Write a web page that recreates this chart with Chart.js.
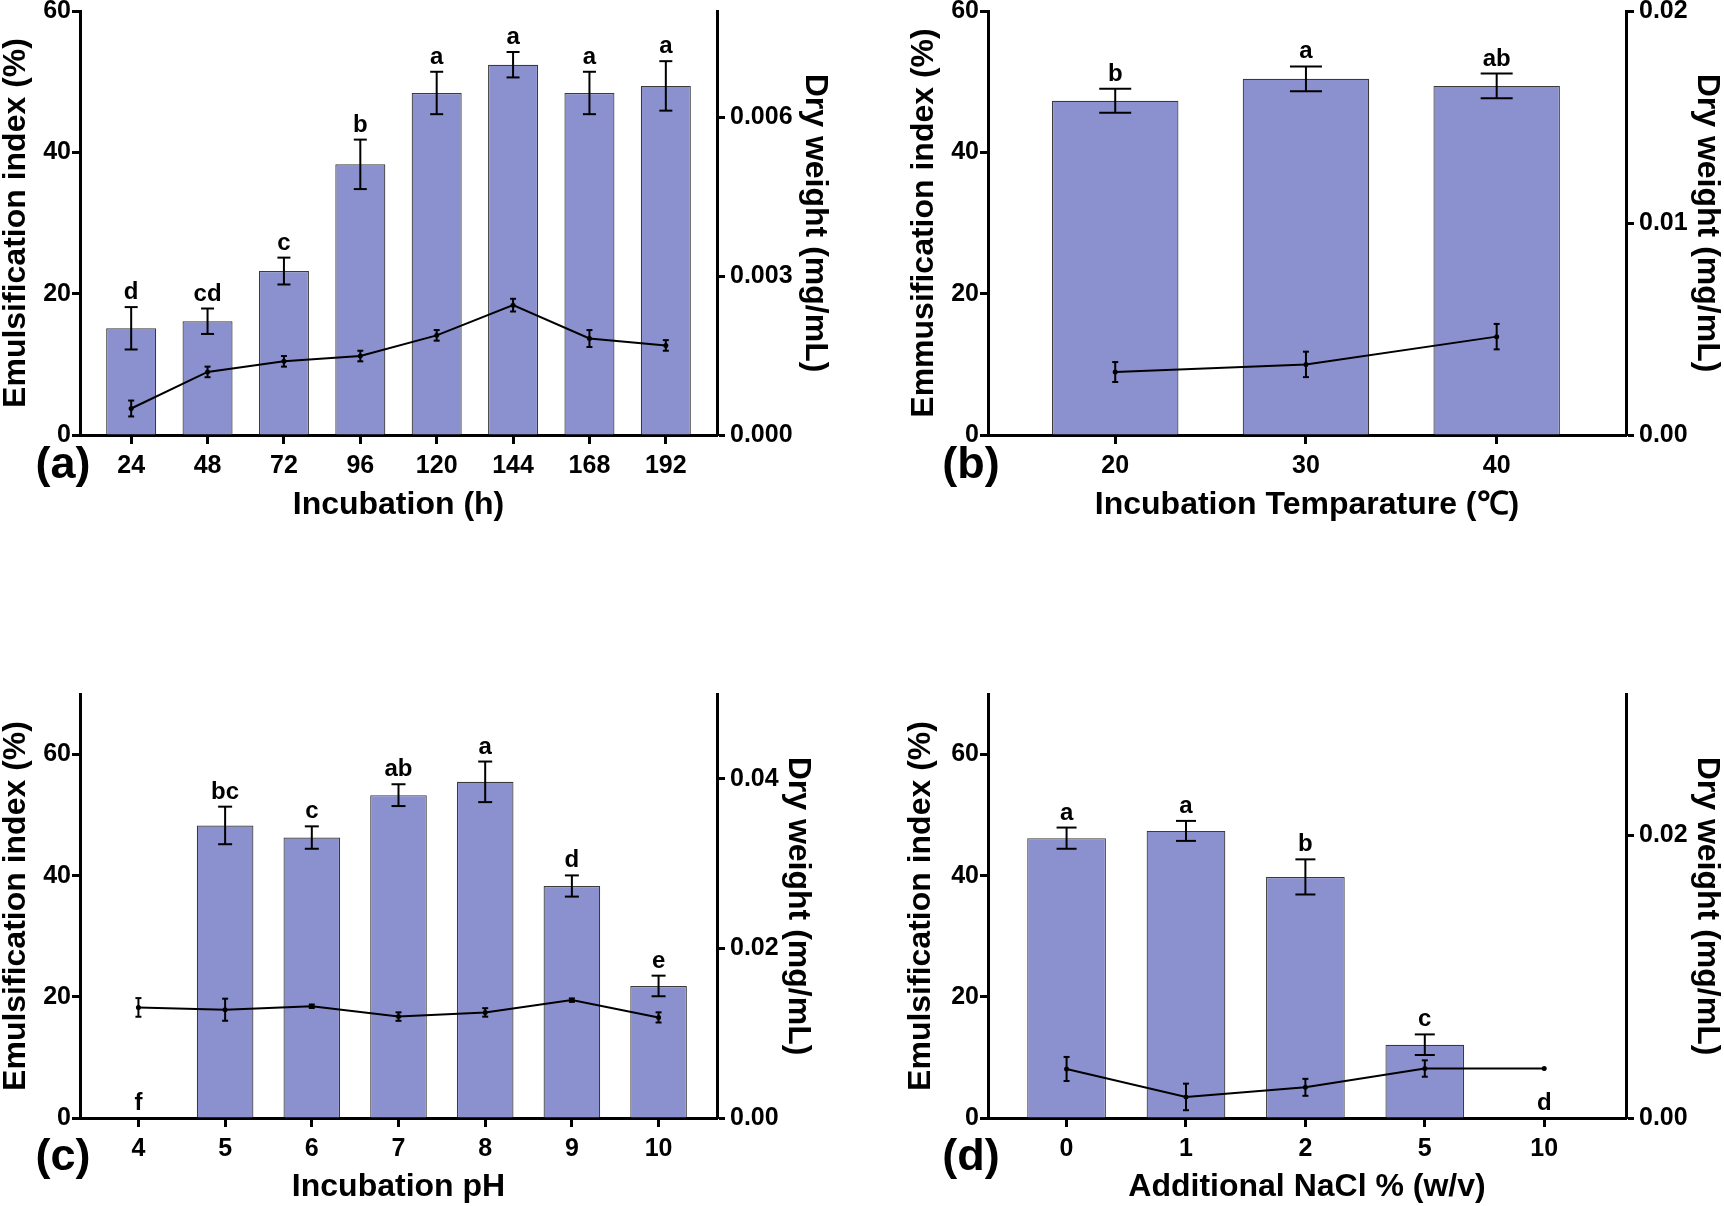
<!DOCTYPE html>
<html><head><meta charset="utf-8">
<script src="https://cdn.jsdelivr.net/npm/chart.js@4.4.1/dist/chart.umd.min.js"></script>
<style>
html,body{margin:0;padding:0;background:#fff;}
body{width:1724px;height:1206px;overflow:hidden;position:relative;}
canvas{position:absolute;}
</style></head>
<body>
<canvas id="pa" width="862" height="531" style="left:0px;top:-9px"></canvas>
<canvas id="pb" width="862" height="531" style="left:862px;top:-9px"></canvas>
<canvas id="pc" width="862" height="530" style="left:0px;top:674px"></canvas>
<canvas id="pd" width="862" height="530" style="left:862px;top:674px"></canvas>
<script>
// ---------- Panel (a): incubation time ----------
const aCategories = ['24','48','72','96','120','144','168','192'];
const aEmulsification = [15.1, 16.1, 23.2, 38.3, 48.4, 52.4, 48.4, 49.4];
const aEmulsificationErr = [3.0, 1.8, 1.9, 3.5, 3.0, 1.8, 3.0, 3.5];
const aDryWeight = [0.0005, 0.00119, 0.00139, 0.00149, 0.00188, 0.00245, 0.00182, 0.00169];
const aDryWeightErr = [0.00015, 0.0001, 0.0001, 0.0001, 0.0001, 0.00012, 0.00016, 0.0001];
const aLetters = ['d','cd','c','b','a','a','a','a'];
const aLeftTicks = [0, 20, 40, 60];
const aRightTicks = [0, 0.003, 0.006];

// ---------- Panel (b): temperature ----------
const bCategories = ['20','30','40'];
const bEmulsification = [47.3, 50.4, 49.4];
const bEmulsificationErr = [1.7, 1.75, 1.75];
const bDryWeight = [0.00297, 0.00333, 0.00464];
const bDryWeightErr = [0.00047, 0.0006, 0.0006];
const bLetters = ['b','a','ab'];
const bLeftTicks = [0, 20, 40, 60];
const bRightTicks = [0, 0.01, 0.02];

// ---------- Panel (c): pH ----------
const cCategories = ['4','5','6','7','8','9','10'];
const cEmulsification = [0, 48.3, 46.3, 53.3, 55.5, 38.3, 21.8];
const cEmulsificationErr = [0, 3.1, 1.85, 1.8, 3.35, 1.75, 1.7];
const cDryWeight = [0.01304, 0.01277, 0.01318, 0.01196, 0.01245, 0.0139, 0.01186];
const cDryWeightErr = [0.0011, 0.0013, 0.0002, 0.0005, 0.0005, 0.0002, 0.0006];
const cLetters = ['f','bc','c','ab','a','d','e'];
const cLeftTicks = [0, 20, 40, 60];
const cRightTicks = [0, 0.02, 0.04];

// ---------- Panel (d): NaCl ----------
const dCategories = ['0','1','2','5','10'];
const dEmulsification = [46.2, 47.4, 39.8, 12.1, 0];
const dEmulsificationErr = [1.75, 1.65, 2.9, 1.7, 0];
const dDryWeight = [0.00347, 0.00149, 0.00217, 0.0035, 0.0035];
const dDryWeightErr = [0.00085, 0.00094, 0.0006, 0.00058, 0];
const dLetters = ['a','a','b','c','d'];
const dLeftTicks = [0, 20, 40, 60];
const dRightTicks = [0, 0.02];

const FONT = "'Liberation Sans', Arial, Helvetica, sans-serif";
const BAR_COLOR = '#8b91cf';

function makePanel(id, d, s) {
  const errPlugin = {
    id: 'errbars',
    afterDatasetsDraw(chart) {
      const ctx = chart.ctx, xs = chart.scales.x, ys = chart.scales.y, y1 = chart.scales.y1;
      ctx.save();
      ctx.strokeStyle = '#000'; ctx.fillStyle = '#000'; ctx.lineWidth = 2;
      const seg = (x0, y0, x1, y1_) => { ctx.beginPath(); ctx.moveTo(x0, y0); ctx.lineTo(x1, y1_); ctx.stroke(); };
      const bar = (scale, v, e, px, cap) => {
        const t = scale.getPixelForValue(v + e), b = scale.getPixelForValue(v - e);
        seg(px, t, px, b); seg(px - cap/2, t, px + cap/2, t); seg(px - cap/2, b, px + cap/2, b);
      };
      d.ei.forEach((v, i) => { if (d.eiErr[i] > 0) bar(ys, v, d.eiErr[i], xs.getPixelForValue(i), s.cap); });
      d.dw.forEach((v, i) => { if (d.dwErr[i] > 0) bar(y1, v, d.dwErr[i], xs.getPixelForValue(i), 6); });
      ctx.font = 'bold 24px ' + FONT; ctx.textAlign = 'center'; ctx.textBaseline = 'alphabetic';
      d.letters.forEach((l, i) => {
        const top = ys.getPixelForValue(d.ei[i] + d.eiErr[i]);
        ctx.fillText(l, xs.getPixelForValue(i), top - 8);
      });
      ctx.font = 'bold 45px ' + FONT;
      const ca = chart.chartArea;
      ctx.fillText(s.tag, ca.left - 17, ca.bottom + s.tagOff);
      ctx.restore();
    }
  };
  return new Chart(document.getElementById(id), {
    data: {
      datasets: [
        { type: 'line', yAxisID: 'y1', order: 0,
          data: d.dw.map((v, i) => ({x: i, y: v})),
          borderColor: '#000', backgroundColor: '#000', borderWidth: 2,
          pointRadius: 2.5, pointBackgroundColor: '#000', pointBorderWidth: 0, tension: 0 },
        { type: 'bar', yAxisID: 'y', order: 1,
          data: d.ei.map((v, i) => ({x: i, y: v})),
          backgroundColor: BAR_COLOR, borderColor: '#3a3a3a', borderWidth: 1.2,
          barPercentage: s.barPct, categoryPercentage: 1 }
      ]
    },
    options: {
      responsive: false, maintainAspectRatio: false, animation: false,
      layout: { padding: { top: 20, left: 0, right: 0, bottom: 0 } },
      plugins: { legend: { display: false }, tooltip: { enabled: false } },
      scales: {
        x: {
          type: 'linear', position: 'bottom', min: s.xmin, max: s.xmax, offset: false,
          afterBuildTicks: sc => { sc.ticks = d.cats.map((c, i) => ({value: i})); },
          afterFit: sc => { sc.height = s.xH; },
          ticks: { autoSkip: false, maxRotation: 0, padding: 7, color: '#000',
                   font: { family: FONT, weight: 'bold', size: 25 },
                   callback: v => d.cats[v] },
          grid: { offset: false, drawOnChartArea: false, drawTicks: true, tickLength: 9, tickWidth: 3, tickColor: '#000' },
          border: { display: true, width: 3, color: '#000' },
          title: { display: true, text: s.xTitle, color: '#000', padding: { top: 0, bottom: 1 },
                   font: { family: FONT, weight: 'bold', size: 32, lineHeight: 1 } }
        },
        y: {
          type: 'linear', position: 'left', min: 0, max: s.yMax,
          afterBuildTicks: sc => { sc.ticks = d.leftTicks.map(v => ({value: v})); },
          afterFit: sc => { sc.width = s.leftW; },
          ticks: { padding: 1, color: '#000', font: { family: FONT, weight: 'bold', size: 25 } },
          grid: { drawOnChartArea: false, drawTicks: true, tickLength: 8, tickWidth: 3, tickColor: '#000' },
          border: { display: true, width: 3, color: '#000' },
          title: { display: true, text: s.yTitle, color: '#000', padding: { top: s.yTitlePad, bottom: 0 },
                   font: { family: FONT, weight: 'bold', size: 32, lineHeight: 1 } }
        },
        y1: {
          type: 'linear', position: 'right', min: 0, max: s.y1Max,
          afterBuildTicks: sc => { sc.ticks = d.rightTicks.map(v => ({value: v})); },
          afterFit: sc => { sc.width = s.rightW; },
          ticks: { padding: 5, color: '#000', font: { family: FONT, weight: 'bold', size: 25 },
                   callback: v => Number(v).toFixed(s.dec) },
          grid: { drawOnChartArea: false, drawTicks: true, tickLength: 8, tickWidth: 3, tickColor: '#000' },
          border: { display: true, width: 3, color: '#000' },
          title: { display: true, text: 'Dry weight (mg/mL)', color: '#000', padding: { top: s.y1TitlePad, bottom: 0 },
                   font: { family: FONT, weight: 'bold', size: 32, lineHeight: 1 } }
        }
      }
    },
    plugins: [errPlugin]
  });
}

makePanel('pa',
  { cats: aCategories, ei: aEmulsification, eiErr: aEmulsificationErr, dw: aDryWeight, dwErr: aDryWeightErr,
    letters: aLetters, leftTicks: aLeftTicks, rightTicks: aRightTicks },
  { xmin: -0.67, xmax: 7.67, xH: 87, leftW: 80, rightW: 145, yMax: 60, y1Max: 0.008, dec: 3,
    barPct: 0.655, cap: 13, tag: '(a)', tagOff: 43,
    xTitle: 'Incubation (h)', yTitle: 'Emulsification index (%)', yTitlePad: 0, y1TitlePad: 31 });

makePanel('pb',
  { cats: bCategories, ei: bEmulsification, eiErr: bEmulsificationErr, dw: bDryWeight, dwErr: bDryWeightErr,
    letters: bLetters, leftTicks: bLeftTicks, rightTicks: bRightTicks },
  { xmin: -0.667, xmax: 2.678, xH: 87, leftW: 126, rightW: 98, yMax: 60, y1Max: 0.02, dec: 2,
    barPct: 0.663, cap: 32, tag: '(b)', tagOff: 43,
    xTitle: 'Incubation Temparature (\u2103)', yTitle: 'Emmusification index (%)', yTitlePad: 46, y1TitlePad: 1 });

makePanel('pc',
  { cats: cCategories, ei: cEmulsification, eiErr: cEmulsificationErr, dw: cDryWeight, dwErr: cDryWeightErr,
    letters: cLetters, leftTicks: cLeftTicks, rightTicks: cRightTicks },
  { xmin: -0.674, xmax: 6.674, xH: 86, leftW: 80, rightW: 145, yMax: 70, y1Max: 0.05, dec: 2,
    barPct: 0.653, cap: 14, tag: '(c)', tagOff: 52,
    xTitle: 'Incubation pH', yTitle: 'Emulsification index (%)', yTitlePad: 0, y1TitlePad: 48 });

makePanel('pd',
  { cats: dCategories, ei: dEmulsification, eiErr: dEmulsificationErr, dw: dDryWeight, dwErr: dDryWeightErr,
    letters: dLetters, leftTicks: dLeftTicks, rightTicks: dRightTicks },
  { xmin: -0.658, xmax: 4.685, xH: 86, leftW: 126, rightW: 98, yMax: 70, y1Max: 0.03, dec: 2,
    barPct: 0.659, cap: 20, tag: '(d)', tagOff: 52,
    xTitle: 'Additional NaCl % (w/v)', yTitle: 'Emulsification index (%)', yTitlePad: 43, y1TitlePad: 1 });
</script>
</body></html>
